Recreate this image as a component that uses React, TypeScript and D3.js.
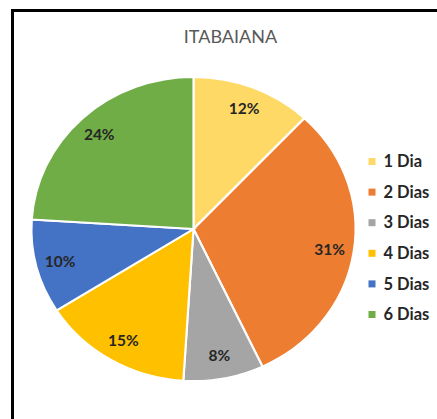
import React from 'react';
import * as d3 from 'd3';

const width = 437;
const height = 419;

// data (percent of respondents)
const categories = ['1 Dia', '2 Dias', '3 Dias', '4 Dias', '5 Dias', '6 Dias'];
const values = [12, 31, 8, 15, 10, 24];
const colors = ['#FFD966', '#ED7D31', '#A5A5A5', '#FFC000', '#4472C4', '#70AD47'];
const title = 'ITABAIANA';

const cx = 193.5;
const cy = 229;
const radius = 152;
const stretchX = 1.066; // the picture is a bit wider than tall

const App = () => {
  const total = d3.sum(values);
  const pie = d3.pie<number>().sort(null).value(d => d);
  const arcs = pie(values);
  const arc = d3.arc<d3.PieArcDatum<number>>().innerRadius(0).outerRadius(radius);
  const labelArc = d3.arc<d3.PieArcDatum<number>>().innerRadius(radius * 0.85).outerRadius(radius * 0.85);
  const fmt = d3.format('.0%');

  const legendY = d3.scalePoint<string>().domain(categories).range([161.5, 314.5]);

  return (
    <svg
      width={width}
      height={height}
      style={{ position: 'absolute', left: 0, top: 0, background: '#fff' }}
    >
      <rect x={12.5} y={10.5} width={440} height={420} fill="#fff" stroke="#000" strokeWidth={3} />
      <text
        x={230.5}
        y={43}
        textAnchor="middle"
        fontFamily="Lato, 'Open Sans', sans-serif"
        fontSize={18}
        fill="#595959"
      >
        {title}
      </text>
      <g transform={`translate(${cx},${cy}) scale(${stretchX},1)`}>
        {arcs.map((d, i) => (
          <path key={i} d={arc(d) || ''} fill={colors[i]} stroke="#fff" strokeWidth={2} />
        ))}
      </g>
      <g transform={`translate(${cx},${cy})`}>
        {arcs.map((d, i) => {
          const [x, y] = labelArc.centroid(d);
          return (
            <text
              key={i}
              x={x * stretchX}
              y={y}
              dy="0.35em"
              textAnchor="middle"
              fontFamily="Lato, 'Open Sans', sans-serif"
              fontWeight="bold"
              fontSize={15.5}
              fill="#262626"
            >
              {fmt(values[i] / total)}
            </text>
          );
        })}
      </g>
      <g fontFamily="Lato, 'Open Sans', sans-serif" fontWeight="bold" fontSize={16.5} fill="#262626">
        {categories.map((c, i) => (
          <g key={c} transform={`translate(368.5,${legendY(c)})`}>
            <rect x={0} y={-3.5} width={7} height={7} fill={colors[i]} />
            <text x={15} dy="0.35em">{c}</text>
          </g>
        ))}
      </g>
    </svg>
  );
};

export default App;
